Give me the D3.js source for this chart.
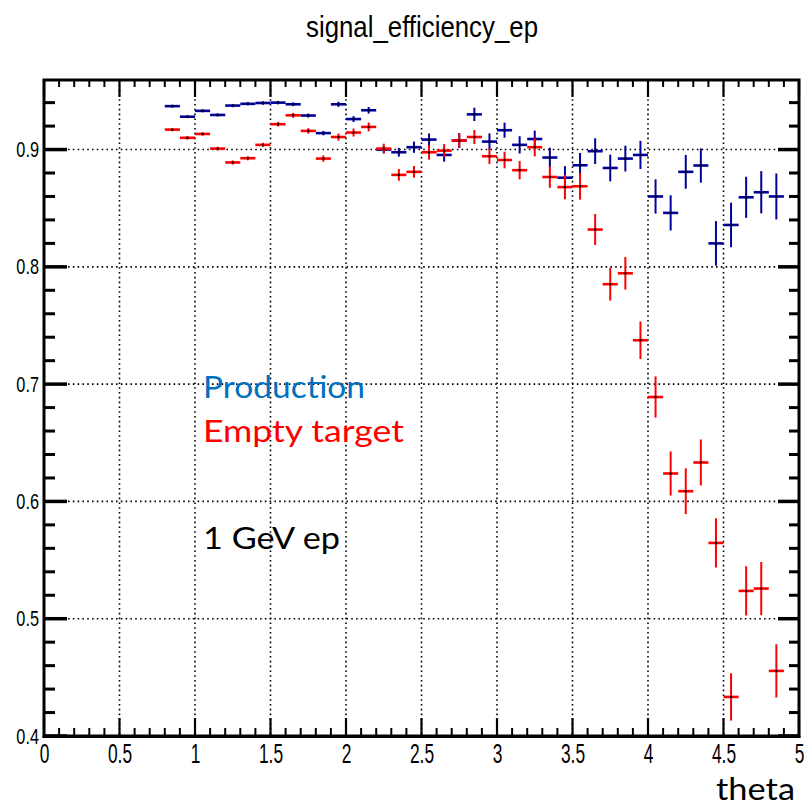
<!DOCTYPE html>
<html>
<head>
<meta charset="utf-8">
<script src="https://cdn.jsdelivr.net/npm/d3@7"></script>
<style>
  html, body { margin: 0; padding: 0; background: #fff; }
  svg { display: block; }
</style>
</head>
<body>
<svg id="chart" width="806" height="806"></svg>
<script>
// ---------------- data ----------------
const theta = [0.85, 0.95, 1.05, 1.15, 1.25, 1.35, 1.45, 1.55, 1.65, 1.75,
               1.85, 1.95, 2.05, 2.15, 2.25, 2.35, 2.45, 2.55, 2.65, 2.75,
               2.85, 2.95, 3.05, 3.15, 3.25, 3.35, 3.45, 3.55, 3.65, 3.75,
               3.85, 3.95, 4.05, 4.15, 4.25, 4.35, 4.45, 4.55, 4.65, 4.75, 4.85];
const binHalfWidth = 0.05;

const production = [0.937, 0.928, 0.933, 0.9295, 0.9375, 0.939, 0.9397, 0.940, 0.9386, 0.929,
                    0.914, 0.9386, 0.926, 0.9335, 0.900, 0.8977, 0.902, 0.9085, 0.8954, 0.9077,
                    0.930, 0.9068, 0.9165, 0.904, 0.909, 0.8932, 0.876, 0.8866, 0.8986, 0.8843,
                    0.8923, 0.8954, 0.860, 0.846, 0.881, 0.8864, 0.820, 0.8357, 0.8593, 0.8636, 0.860];
const productionErr = [0.0012, 0.0012, 0.0013, 0.0013, 0.0014, 0.0014, 0.0015, 0.0015, 0.0016, 0.0017,
                       0.0019, 0.0022, 0.0025, 0.0028, 0.0032, 0.0037, 0.0048, 0.0052, 0.0057, 0.0064,
                       0.0057, 0.0070, 0.0064, 0.0074, 0.0071, 0.0084, 0.0098, 0.0105, 0.0110, 0.0114,
                       0.0110, 0.0120, 0.0146, 0.0150, 0.0144, 0.0146, 0.0190, 0.0190, 0.0175, 0.0180, 0.0196];

const emptyTarget = [0.917, 0.910, 0.9133, 0.9008, 0.889, 0.8926, 0.904, 0.9216, 0.9292, 0.9159,
                     0.8923, 0.9107, 0.9145, 0.9193, 0.9008, 0.8784, 0.881, 0.8977, 0.8991, 0.9077,
                     0.9107, 0.8943, 0.8911, 0.8824, 0.902, 0.8766, 0.868, 0.8687, 0.8318, 0.7852,
                     0.7945, 0.7374, 0.689, 0.6238, 0.6087, 0.6332, 0.5646, 0.4333, 0.5237, 0.5257, 0.4555];
const emptyTargetErr = [0.0014, 0.0015, 0.0015, 0.0016, 0.0017, 0.0017, 0.0018, 0.0019, 0.0021, 0.0023,
                        0.0027, 0.0030, 0.0034, 0.0038, 0.0042, 0.0050, 0.0050, 0.0063, 0.0055, 0.0060,
                        0.0060, 0.0067, 0.0071, 0.0078, 0.0078, 0.0092, 0.0104, 0.0114, 0.0132, 0.0140,
                        0.0139, 0.0160, 0.0176, 0.0188, 0.0195, 0.0196, 0.0210, 0.0202, 0.0210, 0.0227, 0.0227];

const xTicks = [0, 0.5, 1, 1.5, 2, 2.5, 3, 3.5, 4, 4.5, 5];
const yTicks = [0.4, 0.5, 0.6, 0.7, 0.8, 0.9];
const xDomain = [0, 5];
const yDomain = [0.4, 0.9593];

const titleText = "signal_efficiency_ep";
const xTitle = "theta";
const annotations = [
  { text: "Production", color: "#0070C0" },
  { text: "Empty target", color: "#FF0000" },
  { text: "1 GeV ep", color: "#000000" }
];

// ---------------- layout ----------------
const L = 44, R = 799, T = 80, B = 736;
const svg = d3.select("#chart");
const x = d3.scaleLinear().domain(xDomain).range([L, R]);
const y = d3.scaleLinear().domain(yDomain).range([B, T]);

function squeeze(sel, factor) {
  sel.each(function () {
    const w = this.getComputedTextLength();
    if (w > 0) {
      d3.select(this).attr("textLength", w * factor).attr("lengthAdjust", "spacingAndGlyphs");
    }
  });
}

// grid (dotted)
const grid = svg.append("g").attr("stroke", "#000").attr("stroke-width", 1.6)
  .attr("stroke-dasharray", "1.6,3.2");
grid.selectAll("line.gx").data(xTicks.filter(d => d > xDomain[0] && d < xDomain[1]))
  .join("line").attr("x1", d => x(d)).attr("x2", d => x(d)).attr("y1", T).attr("y2", B);
grid.selectAll("line.gy").data(yTicks.filter(d => d > yDomain[0]))
  .join("line").attr("y1", d => y(d)).attr("y2", d => y(d)).attr("x1", L).attr("x2", R);

// minor tick values
const xMinor = d3.range(0, 51).map(i => i / 10).filter(v => !xTicks.some(t => Math.abs(t - v) < 1e-9));
const yMinor = d3.range(20, 48).map(i => i / 50).filter(v => v <= yDomain[1] && !yTicks.some(t => Math.abs(t - v) < 1e-9));

// axes
const fmt = d => String(+d.toFixed(2));
const axB = svg.append("g").attr("transform", `translate(0,${B})`)
  .call(d3.axisBottom(x).tickValues(xTicks).tickSize(0).tickPadding(7).tickFormat(fmt));
axB.select(".domain").remove();
axB.selectAll("text").attr("font-family", "'Liberation Sans', Arial, sans-serif")
  .attr("font-size", 28).attr("fill", "#000");
squeeze(axB.selectAll("text"), 0.62);

const axL = svg.append("g").attr("transform", `translate(${L},0)`)
  .call(d3.axisLeft(y).tickValues(yTicks).tickSize(0).tickPadding(5).tickFormat(fmt));
axL.select(".domain").remove();
axL.selectAll("text").attr("font-family", "'Liberation Sans', Arial, sans-serif")
  .attr("font-size", 22).attr("fill", "#000");
squeeze(axL.selectAll("text"), 0.74);

// ticks drawn inside the frame
const tk = svg.append("g").attr("stroke", "#000");
// bottom
tk.selectAll(null).data(xTicks).join("line").attr("stroke-width", 2.2)
  .attr("x1", d => x(d)).attr("x2", d => x(d)).attr("y1", B).attr("y2", B - 18);
tk.selectAll(null).data(xMinor).join("line").attr("stroke-width", 2)
  .attr("x1", d => x(d)).attr("x2", d => x(d)).attr("y1", B).attr("y2", B - 8);
// top
tk.selectAll(null).data(xTicks).join("line").attr("stroke-width", 2.2)
  .attr("x1", d => x(d)).attr("x2", d => x(d)).attr("y1", T).attr("y2", T + 17);
tk.selectAll(null).data(xMinor).join("line").attr("stroke-width", 2)
  .attr("x1", d => x(d)).attr("x2", d => x(d)).attr("y1", T).attr("y2", T + 7);
// left
tk.selectAll(null).data(yTicks).join("line").attr("stroke-width", 3.5)
  .attr("y1", d => y(d)).attr("y2", d => y(d)).attr("x1", L).attr("x2", L + 23);
tk.selectAll(null).data(yMinor).join("line").attr("stroke-width", 3)
  .attr("y1", d => y(d)).attr("y2", d => y(d)).attr("x1", L).attr("x2", L + 11);
// right
tk.selectAll(null).data(yTicks).join("line").attr("stroke-width", 3.5)
  .attr("y1", d => y(d)).attr("y2", d => y(d)).attr("x1", R).attr("x2", R - 21);
tk.selectAll(null).data(yMinor).join("line").attr("stroke-width", 3)
  .attr("y1", d => y(d)).attr("y2", d => y(d)).attr("x1", R).attr("x2", R - 10);

// frame
svg.append("rect").attr("x", L).attr("y", T).attr("width", R - L).attr("height", B - T)
  .attr("fill", "none").attr("stroke", "#000").attr("stroke-width", 3);
svg.append("line").attr("x1", L - 1.5).attr("x2", R + 1.5).attr("y1", B + 1).attr("y2", B + 1)
  .attr("stroke", "#000").attr("stroke-width", 2);

// data series
function drawSeries(vals, errs, color) {
  const data = theta.map((t, i) => ({ t, v: vals[i], e: errs[i] }));
  const g = svg.append("g");
  const pts = g.selectAll("g").data(data).join("g");
  pts.append("line")
    .attr("x1", d => x(d.t - binHalfWidth)).attr("x2", d => x(d.t + binHalfWidth))
    .attr("y1", d => y(d.v)).attr("y2", d => y(d.v))
    .attr("stroke", color).attr("stroke-width", 2.6);
  pts.append("line")
    .attr("x1", d => x(d.t)).attr("x2", d => x(d.t))
    .attr("y1", d => y(d.v - d.e)).attr("y2", d => y(d.v + d.e))
    .attr("stroke", color).attr("stroke-width", 2);
  pts.append("rect")
    .attr("x", d => x(d.t) - 1).attr("y", d => y(d.v) - 1)
    .attr("width", 2).attr("height", 2).attr("fill", "#000");
}
drawSeries(production, productionErr, "#00009a");
drawSeries(emptyTarget, emptyTargetErr, "#ff0000");

// title
const tt = svg.append("text").attr("x", 422).attr("y", 37).attr("text-anchor", "middle")
  .attr("font-family", "'Liberation Sans', Arial, sans-serif").attr("font-size", 30)
  .attr("fill", "#000").text(titleText);
tt.attr("textLength", 232).attr("lengthAdjust", "spacingAndGlyphs");

// x axis title
svg.append("text").attr("x", 795).attr("y", 800).attr("text-anchor", "end")
  .attr("font-family", "Lato, 'Open Sans', sans-serif").attr("font-size", 31)
  .attr("fill", "#000").attr("textLength", 79).attr("lengthAdjust", "spacingAndGlyphs").text(xTitle);

// annotations
const annBase = [397.5, 442, 548.5];
const annWidth = [162, 201, 137];
annotations.forEach((a, i) => {
  svg.append("text").attr("x", 203).attr("y", annBase[i])
    .attr("font-family", "Lato, 'Open Sans', sans-serif").attr("font-size", 30)
    .attr("fill", a.color).attr("textLength", annWidth[i]).attr("lengthAdjust", "spacingAndGlyphs")
    .text(a.text);
});
</script>
</body>
</html>
